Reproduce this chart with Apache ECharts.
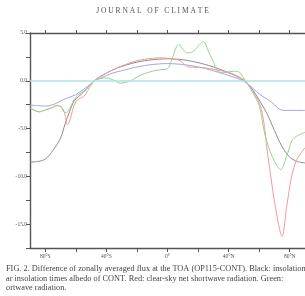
<!DOCTYPE html>
<html>
<head>
<meta charset="utf-8">
<script src="https://cdn.jsdelivr.net/npm/echarts@6/dist/echarts.min.js"></script>
<style>
  html, body { margin: 0; padding: 0; background: #fff; }
  #chart { width: 305px; height: 296px; }
</style>
</head>
<body>
<div id="chart"></div>
<script>
// latitude ticks / labels
const xTicks = [-80, -60, -40, -20, 0, 20, 40, 60, 80];
const xLabels = [-80, -40, 0, 40, 80];
const zeroRef = [0];

// Black: insolation times albedo of CONT
const blackFlux = [
  [-90, -8.5], [-85, -8.45], [-80, -8.2], [-75, -7.3], [-70, -6.0], [-67, -4.5],
  [-64, -3.2], [-61, -2.1], [-55, -1.2], [-51, -0.5], [-48, 0], [-45, 0.35],
  [-40, 0.8], [-35, 1.2], [-30, 1.5], [-20, 1.95], [-10, 2.2], [0, 2.3],
  [10, 2.2], [20, 1.9], [30, 1.45], [40, 0.85], [45, 0.5], [50, 0.05],
  [53, -0.4], [56, -1.0], [60, -2.0], [65, -3.4], [70, -5.2], [75, -6.9],
  [80, -8.0], [85, -8.45], [90, -8.6]
];

// Blue
const blueFlux = [
  [-90, -2.55], [-85, -2.6], [-80, -2.65], [-76, -2.55], [-72, -2.3], [-68, -1.95],
  [-64, -1.7], [-60, -1.45], [-55, -0.9], [-50, -0.3], [-48, 0], [-45, 0.2],
  [-40, 0.55], [-35, 0.85], [-30, 1.05], [-20, 1.45], [-10, 1.7], [0, 1.8],
  [10, 1.7], [20, 1.45], [30, 1.05], [40, 0.55], [45, 0.3], [50, -0.05],
  [54, -0.5], [58, -1.1], [62, -1.6], [66, -2.0], [70, -2.5], [73, -2.95],
  [76, -3.1], [80, -3.1], [90, -3.1]
];

// Red: clear-sky net shortwave radiation
const redFlux = [
  [-90, -2.85], [-87, -3.1], [-84, -3.25], [-80, -3.05], [-76, -2.85], [-72, -2.6],
  [-69, -2.8], [-67, -3.6], [-65.5, -4.6], [-64, -4.2], [-62, -3.0], [-60, -2.2],
  [-58, -1.9], [-56, -1.75], [-54, -1.5], [-51, -0.7], [-48, 0], [-45, 0.35],
  [-40, 0.8], [-35, 1.2], [-30, 1.55], [-25, 1.85], [-20, 2.1], [-15, 2.25],
  [-10, 2.35], [-5, 2.4], [0, 2.35], [5, 2.25], [9, 2.05], [11, 1.7],
  [14, 1.45], [20, 1.4], [25, 1.35], [30, 1.2], [35, 1.05], [40, 0.9],
  [45, 0.55], [50, 0.1], [52, -0.2], [55, -0.9], [58, -1.7], [60, -2.3],
  [62, -3.4], [63.5, -4.8], [65, -7.0], [67, -9.3], [70.5, -13.1], [75, -16.3],
  [78, -13.2], [81, -10.2], [84.5, -8.3], [90, -7.0]
];

// Green
const greenFlux = [
  [-90, -2.85], [-87, -3.1], [-84, -3.25], [-80, -3.05], [-76, -2.85], [-73, -2.6],
  [-70, -2.7], [-67, -3.35], [-65, -3.2], [-63, -2.6], [-61, -1.9], [-58, -1.4],
  [-55, -1.1], [-51, -0.5], [-48, 0], [-45, 0.2], [-40, 0.3], [-35, 0.05],
  [-31, -0.25], [-27, -0.15], [-24, 0], [-20, 0.4], [-15, 0.75], [-10, 1.0],
  [-5, 1.15], [0, 1.25], [3, 2.3], [6, 3.6], [7.5, 3.8], [10, 3.3],
  [13, 2.9], [17, 3.1], [21, 3.8], [23.5, 4.1], [27, 3.0], [30, 2.0],
  [33, 1.0], [37, 0.85], [43, 1.0], [47, 0.9], [50, 0.25], [52, -0.2],
  [56, -1.3], [60, -2.6], [64, -5.8], [68.5, -7.9], [74, -9.3], [78, -7.9],
  [81.3, -6.3], [84.5, -5.8], [90, -5.4]
];

const captionLines = [
  'FIG. 2. Difference of zonally averaged flux at the TOA (OP115-CONT). Black: insolation',
  'ar insolation times albedo of CONT. Red: clear-sky net shortwave radiation. Green:',
  'ortwave radiation.'
];

const axisColor = '#555';
const labelStyle = { color: '#555', fontSize: 5.5, fontFamily: 'Liberation Serif' };

function latLabel(v) {
  if (v === 0) return '0°';
  return Math.abs(v) + (v < 0 ? '°S' : '°N');
}

function lineSeries(name, data, color) {
  return {
    name,
    type: 'line',
    data,
    symbol: 'none',
    smooth: 0.3,
    lineStyle: { color, width: 1 },
    z: 3
  };
}

const chart = echarts.init(document.getElementById('chart'));

chart.setOption({
  animation: false,
  backgroundColor: '#fff',
  grid: { left: 30, top: 33, width: 284, height: 215 },
  graphic: [
    {
      type: 'text',
      left: 'center',
      top: 7,
      style: {
        text: 'J O U R N A L   O F   C L I M A T E',
        fontFamily: 'Liberation Serif',
        fontSize: 7.5,
        fill: '#555'
      }
    }
  ].concat(captionLines.map((t, i) => ({
    type: 'text',
    left: 6,
    top: 265 + i * 9.5,
    style: {
      text: t,
      fontFamily: 'Liberation Serif',
      fontSize: 8.3,
      fill: '#444'
    }
  }))),
  xAxis: [
    {
      type: 'value',
      position: 'bottom',
      min: -90,
      max: 90,
      axisLine: { show: true, onZero: false, lineStyle: { color: axisColor, width: 1.4 } },
      axisTick: { show: true, length: 4, customValues: xTicks, lineStyle: { color: axisColor } },
      axisLabel: { ...labelStyle, margin: 6, customValues: xLabels, formatter: latLabel },
      splitLine: { show: false }
    },
    {
      type: 'value',
      position: 'top',
      min: -90,
      max: 90,
      axisLine: { show: true, onZero: false, lineStyle: { color: axisColor, width: 1.4 } },
      axisTick: { show: true, length: 3, customValues: xTicks, lineStyle: { color: axisColor } },
      axisLabel: { show: false },
      splitLine: { show: false }
    }
  ],
  yAxis: {
    type: 'value',
    min: -17.5,
    max: 5,
    interval: 2.5,
    axisLine: { show: true, onZero: false, lineStyle: { color: axisColor, width: 1.4 } },
    axisTick: { show: true, length: 4, lineStyle: { color: axisColor } },
    axisLabel: {
      ...labelStyle,
      margin: 3,
      formatter: v => (Math.abs(v % 5) < 1e-6 ? v.toFixed(1) : '')
    },
    splitLine: { show: false }
  },
  series: [
    {
      name: 'zero',
      type: 'line',
      data: [],
      markLine: {
        silent: true,
        symbol: 'none',
        label: { show: false },
        lineStyle: { color: '#aee3e3', width: 1.5, type: 'solid' },
        data: zeroRef.map(v => ({ yAxis: v }))
      }
    },
    lineSeries('Black', blackFlux, '#8c8c8c'),
    lineSeries('Blue', blueFlux, '#a3a3e6'),
    lineSeries('Red', redFlux, '#f29a9a'),
    lineSeries('Green', greenFlux, '#96d296')
  ]
});
</script>
</body>
</html>
